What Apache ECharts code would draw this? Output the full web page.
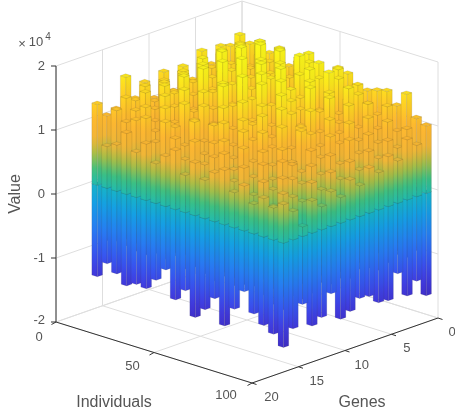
<!DOCTYPE html>
<html><head><meta charset="utf-8">
<style>html,body{margin:0;padding:0;background:#fff}#c{width:455px;height:419px}#c canvas{filter:blur(0.45px)}</style>
<script src="https://cdn.jsdelivr.net/npm/echarts@6/dist/echarts.min.js"></script>
</head><body><div id="c"></div>
<script>
const individualTicks=[0,50,100];
const geneTicks=[0,5,10,15,20];
const valueTicks=[-2,-1,0,1,2];
const xLabel='Individuals',yLabel='Genes',zLabel='Value';
// rows: individuals group k=1..20, columns: genes j=1..16 ; values in units of 1e4
const positive=[
[1.56,1.44,1.49,1.26,1.52,1.10,1.29,1.05,1.40,1.04,1.34,1.14,1.53,1.08,1.03,1.26],
[1.47,1.52,1.18,1.45,1.30,1.41,1.22,1.48,1.12,1.36,1.09,1.38,1.21,1.30,1.16,0.65],
[1.33,1.21,1.60,1.36,1.58,1.12,1.56,1.28,1.50,1.24,1.43,1.07,1.38,1.15,1.02,0.72],
[1.42,1.65,1.28,1.63,1.19,1.72,1.35,1.70,1.18,1.55,1.31,1.48,0.98,1.25,1.10,0.95],
[1.19,1.38,1.75,1.22,1.67,1.45,1.80,1.26,1.70,1.05,1.62,1.20,1.42,0.92,1.18,0.70],
[1.31,1.64,1.15,1.78,1.34,1.86,1.10,1.58,1.32,1.74,1.12,1.51,1.05,1.33,0.85,0.88],
[1.42,1.12,1.72,1.40,1.90,1.24,1.68,1.44,1.84,1.16,1.47,0.96,1.39,1.08,1.21,0.62],
[1.05,1.58,1.33,1.80,1.08,1.76,1.36,1.88,1.22,1.60,1.02,1.35,1.18,0.84,1.00,0.78],
[1.13,1.70,1.48,1.20,1.70,1.52,1.80,1.14,1.56,1.30,1.66,1.10,0.90,1.26,0.72,0.92],
[1.07,1.30,1.66,1.82,1.25,1.60,1.18,1.74,1.40,1.80,1.04,1.42,1.20,0.80,1.05,0.58],
[1.52,1.14,1.70,1.34,1.62,1.05,1.82,1.30,1.68,1.16,1.50,0.88,1.28,1.02,0.74,0.82],
[1.48,1.60,1.22,1.56,1.75,1.36,1.54,1.72,1.08,1.44,1.20,1.32,0.78,1.10,0.90,0.60],
[1.34,1.10,1.55,1.70,1.16,1.66,1.28,1.46,1.60,1.00,1.38,1.06,1.24,0.70,1.00,0.76],
[1.31,1.45,1.26,1.10,1.48,1.24,1.66,1.12,1.36,1.48,0.94,1.22,0.82,1.08,0.62,0.85],
[1.36,1.20,1.40,1.55,1.06,1.50,1.02,1.40,1.20,0.92,1.30,0.76,1.02,0.68,0.88,0.55],
[1.40,1.08,1.30,0.98,1.38,1.00,1.26,0.90,1.14,1.24,0.80,1.05,0.64,0.92,0.50,0.70],
[1.22,1.26,0.96,1.18,0.88,1.20,0.94,1.10,0.82,0.98,0.70,0.86,0.96,0.58,0.75,0.46],
[1.45,0.92,1.12,0.84,1.02,0.78,1.04,0.72,0.90,0.66,0.84,0.62,0.74,0.80,0.42,0.60],
[1.12,1.00,0.76,0.92,0.70,0.86,0.62,0.80,0.58,0.74,0.52,0.68,0.44,0.56,0.66,0.50],
[1.05,0.80,0.94,0.66,0.78,0.58,0.70,0.48,0.62,0.40,0.54,0.36,0.50,0.15,0.44,0.60]];
const negative=[
[-0.90,-0.95,-0.92,-1.00,-0.94,-1.02,-0.96,-0.98,-1.05,-0.93,-1.00,-1.08,-0.98,-0.95,-0.92,-1.43],
[-0.98,-0.92,-1.02,-0.95,-1.05,-1.00,-0.94,-1.08,-0.98,-1.02,-0.96,-0.94,-1.00,-0.90,-0.88,-1.18],
[-0.94,-1.00,-0.96,-1.04,-0.92,-1.08,-1.02,-0.98,-0.95,-1.06,-0.99,-1.02,-0.95,-0.92,-0.90,-1.29],
[-1.02,-0.96,-1.05,-0.98,-1.10,-0.94,-1.00,-1.06,-1.02,-0.96,-1.04,-0.98,-0.92,-0.96,-0.94,-1.43],
[-0.96,-1.04,-0.93,-1.08,-0.99,-1.02,-1.12,-0.95,-1.05,-1.00,-0.94,-1.02,-0.98,-0.90,-0.95,-1.36],
[-1.00,-0.94,-1.06,-0.96,-1.04,-1.10,-0.98,-1.08,-0.94,-1.02,-1.00,-0.92,-0.96,-0.94,-0.88,-1.38],
[-0.93,-1.02,-0.98,-1.12,-0.95,-1.00,-1.06,-0.96,-1.10,-0.98,-1.04,-0.95,-0.90,-0.88,-0.92,-1.20],
[-1.04,-0.96,-1.10,-0.94,-1.08,-0.98,-1.02,-1.14,-0.96,-1.05,-0.92,-1.00,-0.94,-0.86,-0.82,-0.99],
[-0.95,-1.08,-0.98,-1.04,-0.92,-1.12,-0.96,-1.02,-1.08,-0.94,-1.00,-0.90,-0.96,-0.92,-0.98,-1.41],
[-1.02,-0.94,-1.06,-0.96,-1.14,-0.92,-1.08,-0.98,-1.04,-1.10,-0.95,-1.02,-0.88,-0.94,-0.90,-1.22],
[-0.92,-1.04,-0.95,-1.10,-0.98,-1.06,-0.94,-1.12,-0.96,-1.00,-1.06,-0.90,-0.98,-0.92,-0.96,-1.59],
[-1.00,-0.96,-1.12,-0.94,-1.05,-0.96,-1.10,-0.98,-1.02,-0.92,-1.04,-0.96,-1.00,-0.94,-1.02,-1.42],
[-0.96,-1.10,-0.94,-1.04,-0.92,-1.14,-0.98,-1.06,-0.94,-1.08,-0.96,-1.02,-0.92,-0.98,-0.90,-1.20],
[-1.04,-0.92,-1.08,-0.98,-1.10,-0.95,-1.04,-0.94,-1.12,-0.96,-1.00,-0.94,-1.04,-0.96,-1.00,-1.58],
[-0.94,-1.06,-0.96,-1.12,-0.94,-1.02,-0.96,-1.10,-0.95,-1.04,-0.92,-1.06,-0.96,-1.02,-0.94,-1.27],
[-1.00,-0.95,-1.08,-0.92,-1.04,-0.98,-1.08,-0.94,-1.02,-0.92,-1.02,-0.94,-0.98,-0.82,-0.85,-0.95],
[-0.92,-1.02,-0.94,-1.06,-0.96,-1.08,-0.92,-1.00,-0.94,-1.04,-0.96,-1.00,-0.88,-0.96,-1.00,-1.25],
[-0.98,-0.94,-1.02,-0.88,-1.00,-0.92,-1.04,-0.96,-1.02,-0.92,-0.98,-0.94,-1.00,-1.04,-1.10,-1.38],
[-0.94,-1.00,-0.90,-0.98,-1.04,-0.96,-0.92,-1.02,-0.96,-1.00,-0.92,-1.04,-1.08,-0.98,-1.14,-1.47],
[-1.60,-1.32,-1.50,-1.10,-1.47,-1.45,-1.30,-1.28,-1.43,-1.50,-1.05,-1.37,-1.45,-1.06,-1.39,-1.63]];
const colormapZ=[-1.75,-1.45,-1.15,-0.75,-0.35,0,0.3,0.55,0.78,1.05,1.35,1.65,1.95];
const colormapRGB=[[62,45,195],[65,58,222],[55,85,240],[38,125,242],[20,160,228],[25,185,190],[60,192,130],[165,190,72],[240,182,55],[253,182,48],[255,208,36],[251,236,27],[250,250,25]];

function cmap(z,f){
  let n=colormapZ.length;
  if(z<=colormapZ[0])return rgb(colormapRGB[0],f);
  for(let a=1;a<n;a++)if(z<=colormapZ[a]){
    let t=(z-colormapZ[a-1])/(colormapZ[a]-colormapZ[a-1]),p=colormapRGB[a-1],q=colormapRGB[a];
    return rgb([p[0]+(q[0]-p[0])*t,p[1]+(q[1]-p[1])*t,p[2]+(q[2]-p[2])*t],f);
  }
  return rgb(colormapRGB[n-1],f);
}
function rgb(c,f){return 'rgb('+c.map(v=>Math.round(v*f)).join(',')+')';}
// oblique view of the 3-D box, expressed in plane units used by the hidden value axes
function proj(i,g,z){return [242+1.96*i-9.3*g, 257+0.61*i+3.25*g-64*(z+2)];}
const IC=k=>5*(k+1)-2, GC=j=>0.86+j*1.023, HI=1.4, HG=0.28;

const bars=[];
positive.forEach((row,k)=>row.forEach((v,j)=>{
  bars.push([k,j,negative[k][j],0]);
  bars.push([k,j,0,v]);
}));

function gradient(x,yHi,yLo,hi,lo,f,shift){
  const stops=[];
  const N=10;
  for(let s=0;s<=N;s++){stops.push({offset:s/N,color:cmap(hi+(lo-hi)*s/N+shift,f)});}
  return {type:'linear',global:true,x:x,y:yHi,x2:x,y2:yLo,colorStops:stops};
}
const EDGE='rgba(70,60,40,0.2)';
function renderBar(params,api){
  const k=api.value(0),j=api.value(1),lo=api.value(2),hi=api.value(3);
  const ic=IC(k),gc=GC(j);
  const shift=hi>0?0.08:-0.08;
  const P=(a,b,z)=>api.coord(proj(ic+a*HI,gc+b*HG,z));
  const children=[];
  const face=(pts,fill)=>children.push({type:'polygon',shape:{points:pts},style:{fill:fill,stroke:EDGE,lineWidth:0.6}});
  const a=P(-1,1,lo),b=P(1,1,lo),c=P(1,1,hi),d=P(-1,1,hi);
  const e=P(1,-1,lo),h=P(1,-1,hi),t=P(-1,-1,hi);
  face([a,b,c,d],gradient((a[0]+b[0])/2,(d[1]+c[1])/2,(a[1]+b[1])/2,hi,lo,1,shift));
  face([b,e,h,c],gradient((b[0]+e[0])/2,(c[1]+h[1])/2,(b[1]+e[1])/2,hi,lo,0.97,shift));
  face([d,c,h,t],cmap(hi+shift,0.98));
  return {type:'group',children};
}
const GRID='#dedede',AXIS='#333333',TXT='#555555';
function renderFrame(params,api){
  const C=(i,g,z)=>api.coord(proj(i,g,z));
  const ch=[];
  const line=(p,q,col,w)=>ch.push({type:'line',shape:{x1:p[0],y1:p[1],x2:q[0],y2:q[1]},style:{stroke:col,lineWidth:w||1}});
  valueTicks.forEach(z=>{line(C(0,20,z),C(0,0,z),GRID);line(C(0,0,z),C(100,0,z),GRID);});
  individualTicks.forEach(i=>{line(C(i,0,-2),C(i,0,2),GRID);line(C(i,0,-2),C(i,20,-2),GRID);});
  geneTicks.forEach(g=>{line(C(0,g,-2),C(0,g,2),GRID);line(C(0,g,-2),C(100,g,-2),GRID);});
  return {type:'group',children:ch};
}
function renderAxes(params,api){
  const C=(i,g,z)=>api.coord(proj(i,g,z));
  const ch=[];
  const line=(p,q,col,w)=>ch.push({type:'line',shape:{x1:p[0],y1:p[1],x2:q[0],y2:q[1]},style:{stroke:col,lineWidth:w||1}});
  const text=(s,p,size,align,rot)=>ch.push({type:'text',x:p[0],y:p[1],rotation:rot||0,style:{text:s,fill:TXT,font:size+'px "Liberation Sans"',textAlign:align||'center',textVerticalAlign:'middle'}});
  line(C(0,20,-2),C(0,20,2),AXIS);
  line(C(0,20,-2),C(100,20,-2),AXIS);
  line(C(100,20,-2),C(100,0,-2),AXIS);
  valueTicks.forEach(z=>{const p=C(0,20,z);line(p,[p[0]-5,p[1]],AXIS);
    text(String(z),[p[0]-11,p[1]+(z===-2?-2:0)],13,'right');});
  individualTicks.forEach(i=>{const p=C(i,20,-2);line(p,[p[0]-4.5,p[1]+2.5],AXIS);
    text(String(i),[p[0]-17-0.09*i,p[1]+15-0.03*i],13);});
  geneTicks.forEach(g=>{const p=C(100,g,-2);line(p,[p[0]+4.5,p[1]+1.5],AXIS);
    text(String(g),[p[0]+14+0.28*g,p[1]+14.5],13);});
  text('\u00d7',[22,44],13);
  text('10',[36,42],13);
  text('4',[48,37],10);
  text(xLabel,[114,403],16);
  text(yLabel,[362,403],16);
  text(zLabel,[16,194],16,'center',Math.PI/2);
  return {type:'group',children:ch};
}
const chart=echarts.init(document.getElementById('c'),null,{renderer:'canvas',width:455,height:419});
chart.setOption({
  animation:false,
  grid:{left:0,right:0,top:0,bottom:0},
  xAxis:{type:'value',min:0,max:455,show:false},
  yAxis:{type:'value',min:0,max:419,inverse:true,show:false},
  series:[
    {type:'custom',silent:true,clip:false,data:[[0]],renderItem:renderFrame,z:1},
    {type:'custom',silent:true,clip:false,data:bars,renderItem:renderBar,z:2,encode:{x:0,y:1},progressive:0},
    {type:'custom',silent:true,clip:false,data:[[0]],renderItem:renderAxes,z:3}
  ]
});
</script></body></html>
